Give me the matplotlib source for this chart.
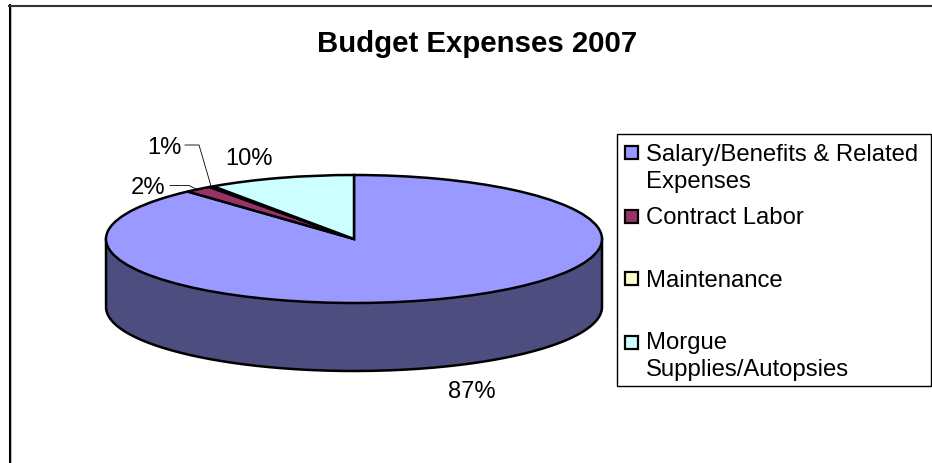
import numpy as np
import matplotlib
matplotlib.use("Agg")
import matplotlib.pyplot as plt
from matplotlib.patches import Rectangle

plt.rcParams['font.family'] = ['Liberation Sans', 'DejaVu Sans']

title = "Budget Expenses 2007"
categories = ["Salary/Benefits & Related\nExpenses", "Contract Labor", "Maintenance",
              "Morgue\nSupplies/Autopsies"]
values = [88.3, 1.8, 0.3, 9.6]
percent_labels = ["87%", "2%", "1%", "10%"]
colors = ["#9999FF", "#993366", "#FFFFCC", "#CCFFFF"]
side_color = "#4D4D80"

W, H = 932, 464
fig = plt.figure(figsize=(W / 100, H / 100), dpi=100)

# pixel geometry of the flattened pie
cx, cy, rx, ry, depth = 354, 240, 248, 64, 68

ax = fig.add_axes([0, 0, 1, 1])
ax.axis("off")

# side wall
t = np.linspace(np.pi, 2 * np.pi, 300)
d = depth / ry
ax.fill_between(np.cos(t), np.sin(t), np.sin(t) - d, color=side_color, lw=0, zorder=1)
ax.plot(np.r_[-1, np.cos(t), 1], np.r_[0, np.sin(t) - d, 0], color="black", lw=1.8,
        solid_joinstyle="round", zorder=2)

# top face
ax.pie(values, colors=colors, startangle=90, counterclock=False, radius=1,
       wedgeprops=dict(edgecolor="black", linewidth=1.8, zorder=3), frame=False)
ax.set_aspect("auto")
ax.set_xlim((0 - cx) / rx, (W - cx) / rx)
ax.set_ylim((cy - H) / ry, cy / ry)


def px(x, y):
    return (x - cx) / rx, (cy - y) / ry


# data labels (baseline-anchored)
fs = 17.1
label_pos = [(472, 398), (148, 194), (164, 154), (249, 165)]
for s, (x, y) in zip(percent_labels, label_pos):
    ax.text(*px(x, y), s, ha="center", va="baseline", fontsize=fs, color="black", zorder=6)

# leader lines
ax.plot(*zip(px(170, 186.5), px(189, 186.5), px(196, 190)), color="black", lw=0.6, zorder=6)
ax.plot(*zip(px(185, 146), px(199, 146), px(211, 187)), color="black", lw=0.6, zorder=6)

# frame
fx = fig.add_axes([0, 0, 1, 1], facecolor="none")
fx.set_xlim(0, W)
fx.set_ylim(H, 0)
fx.axis("off")
fx.plot([11, 11], [464, 8], color="#c8c8c8", lw=0.8)
fx.plot([10, 10], [464, 6], color="black", lw=1.5)
fx.plot([9, 932], [6.5, 6.5], color="#333333", lw=1.5)
fx.add_patch(Rectangle((616.5, 134.5), 314, 252, fc="white", ec="black", lw=1.0))

# title
fx.text(477, 52, title, ha="center", va="baseline", fontsize=21.2, fontweight="bold")

# legend
rows = [(153, 0, 161.5), (217, 1, 224.5), (279.5, 2, 287), (343, 3, 349.5)]
for (y, i, base) in rows:
    fx.add_patch(Rectangle((625, y - 6.5), 13, 13, fc=colors[i], ec="black", lw=1.6))
    lines = categories[i].split("\n")
    for k, s in enumerate(lines):
        fx.text(646, base + k * 27, s, ha="left", va="baseline", fontsize=17.2)

fig.savefig("out.png", dpi=100)
